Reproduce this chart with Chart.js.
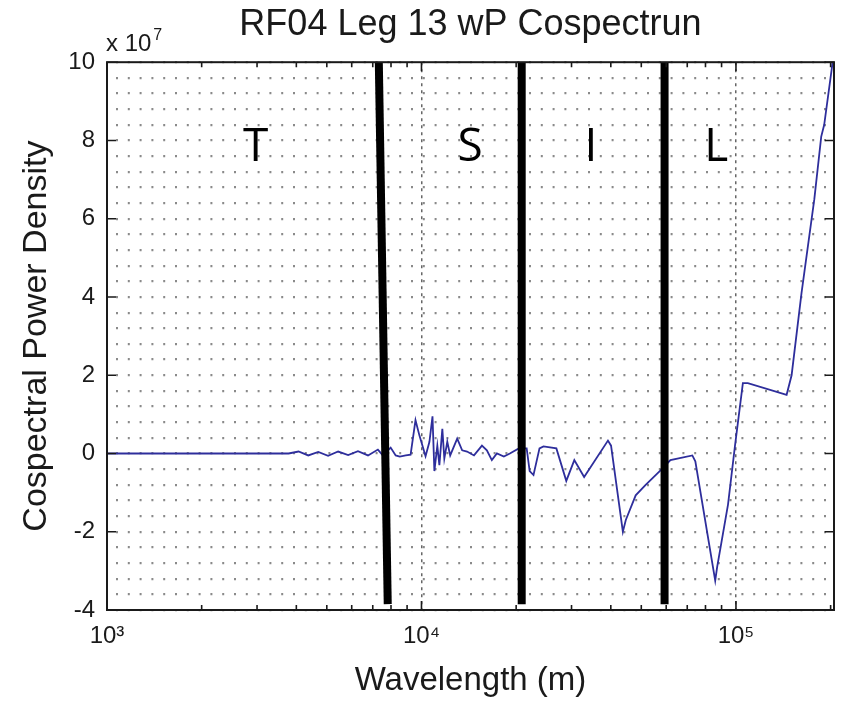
<!DOCTYPE html>
<html>
<head>
<meta charset="utf-8">
<script src="https://cdn.jsdelivr.net/npm/chart.js@4.4.1/dist/chart.umd.min.js"></script>
<style>
  html, body { margin: 0; padding: 0; background: #fff; }
  #wrap { width: 846px; height: 708px; }
</style>
</head>
<body>
<div id="wrap"><canvas id="myChart"></canvas></div>
<script>
// wavelength (m) of each point
const wavelength = [1000, 3780, 4064, 4365, 4697, 5047, 5433, 5846, 6281, 6761, 7267, 7536,
  7980, 8279, 8531, 8913, 9234, 9572, 9858, 10073, 10303, 10600, 10840, 10990, 11230, 11400,
  11650, 11820, 12080, 12340, 12990, 13470, 13960, 14690, 15570, 16140, 16740, 17370, 18280,
  19100, 20390, 21600, 22080, 22710, 23730, 24430, 26850, 28870, 30620, 32900, 39170, 40070,
  43690, 44640, 47990, 51620, 57560, 61890, 72660, 74270, 85910, 87150, 94370, 99300, 105200,
  109100, 144900, 150300, 161600, 177500, 186700, 190800, 203000];

// cospectral power density, in units of 1e7
const cospectrum = [0, 0, 0.05, -0.05, 0.04, -0.06, 0.05, -0.04, 0.06, -0.05, 0.1, -0.05,
  0.15, -0.05, -0.08, -0.05, -0.03, 0.85, 0.45, 0.2, -0.07, 0.3, 0.95, -0.45, 0.2, -0.3,
  0.63, -0.13, 0.3, -0.05, 0.38, 0.08, 0.05, -0.05, 0.2, 0.08, -0.17, 0, -0.08,
  0, 0.13, 0.13, -0.45, -0.55, 0.13, 0.18, 0.13, -0.7, -0.17, -0.6, 0.33, 0.2,
  -2.0, -1.7, -1.07, -0.8, -0.43, -0.17, -0.05, -0.2, -3.25, -2.9, -1.3, 0.2, 1.8,
  1.8, 1.5, 2.0, 4.1, 6.5, 8.1, 8.4, 10.0];

// hand drawn dividers between the regions (wavelength at top and at bottom)
const dividerTop = [7317, 20830, 59290];
const dividerBottom = [7811, 20830, 59290];
const dividerSpan = [10, -3.85];

// region letters and the wavelength they sit over
const regionNames = ['T', 'S', 'I', 'L'];
const regionCenters = [2972, 14290, 34600, 86500];
const regionLevel = 7.8;

const xMin = 1000, xMax = 205000;
const yMin = -4, yMax = 10;
const sup = { 3: '\u00B3', 4: '\u2074', 5: '\u2075' };
const FONT = "'Liberation Sans', Arial, sans-serif";

const isDecade = v => {
    const p = Math.log10(v);
    return Math.abs(p - Math.round(p)) < 1e-9;
};

// matlab style box: inward ticks on all four sides, the x 10^7 factor and region letters
const matlabFrame = {
    id: 'matlabFrame',
    afterDraw(chart) {
        const { ctx, chartArea: a, scales: { x, y } } = chart;
        ctx.save();
        ctx.strokeStyle = '#1a1a1a';
        ctx.lineWidth = 2;
        ctx.strokeRect(a.left, a.top, a.right - a.left, a.bottom - a.top);

        ctx.lineWidth = 1.6;
        ctx.beginPath();
        for (let v = yMin; v <= yMax; v += 2) {
            const py = y.getPixelForValue(v);
            ctx.moveTo(a.left, py); ctx.lineTo(a.left + 9, py);
            ctx.moveTo(a.right, py); ctx.lineTo(a.right - 9, py);
        }
        for (let d = 1000; d <= xMax; d *= 10) {
            for (let m = 1; m <= 9; m++) {
                const v = m * d;
                if (v > xMax) break;
                const px = x.getPixelForValue(v);
                const len = m === 1 ? 9 : 5;
                ctx.moveTo(px, a.bottom); ctx.lineTo(px, a.bottom - len);
                ctx.moveTo(px, a.top); ctx.lineTo(px, a.top + len);
            }
        }
        ctx.stroke();

        // exponent factor above the y axis
        ctx.fillStyle = '#1a1a1a';
        ctx.textBaseline = 'alphabetic';
        ctx.textAlign = 'left';
        ctx.font = '24px ' + FONT;
        ctx.fillText('x 10', a.left - 1, a.top - 11);
        const w = ctx.measureText('x 10').width;
        ctx.font = '16px ' + FONT;
        ctx.fillText('7', a.left + w + 1, a.top - 22);

        // region letters
        ctx.fillStyle = '#000';
        ctx.textAlign = 'center';
        ctx.textBaseline = 'middle';
        ctx.font = "46px 'Open Sans', 'Noto Sans', sans-serif";
        regionNames.forEach((name, i) => {
            ctx.fillText(name, x.getPixelForValue(regionCenters[i]), y.getPixelForValue(regionLevel));
        });
        ctx.restore();
    }
};

const dividerSets = dividerTop.map((top, i) => ({
    data: [{ x: top, y: dividerSpan[0] }, { x: dividerBottom[i], y: dividerSpan[1] }],
    borderColor: '#000',
    borderWidth: 8,
    pointRadius: 0,
    order: 0
}));

const ctx = document.getElementById('myChart').getContext('2d');
const myChart = new Chart(ctx, {
    type: 'line',
    data: {
        datasets: [
            ...dividerSets,
            {
                label: 'wP cospectrum',
                data: wavelength.map((w, i) => ({ x: w, y: cospectrum[i] })),
                borderColor: '#2e2e9c',
                borderWidth: 1.8,
                pointRadius: 0,
                tension: 0,
                order: 1
            }
        ]
    },
    options: {
        responsive: true,
        maintainAspectRatio: false,
        animation: false,
        layout: { padding: { left: 4, right: 6, top: 0, bottom: 4 } },
        plugins: {
            legend: { display: false },
            tooltip: { enabled: false },
            title: {
                display: true,
                fullSize: false,
                text: 'RF04 Leg 13 wP Cospectrun',
                color: '#1a1a1a',
                font: { family: FONT, size: 36, weight: 'normal' },
                padding: { top: 3, bottom: 16 }
            }
        },
        scales: {
            x: {
                type: 'logarithmic',
                min: xMin,
                max: xMax,
                afterFit: s => { s.height = 94; },
                ticks: {
                    autoSkip: false,
                    maxRotation: 0,
                    padding: 12,
                    color: '#1a1a1a',
                    font: { family: FONT, size: 24 },
                    callback: v => isDecade(v) ? '10' + sup[Math.round(Math.log10(v))] : ''
                },
                grid: {
                    drawTicks: false,
                    lineWidth: 1.5,
                    color: c => (c.tick && isDecade(c.tick.value) && c.tick.value > xMin) ? '#666' : 'rgba(0,0,0,0)'
                },
                border: { display: false, dash: [3, 4] },
                title: {
                    display: true,
                    text: 'Wavelength (m)',
                    color: '#1a1a1a',
                    font: { family: FONT, size: 33 },
                    padding: { top: 0, bottom: 3 }
                }
            },
            y: {
                min: yMin,
                max: yMax,
                afterFit: s => { s.width = 103; },
                ticks: {
                    stepSize: 0.4,
                    maxTicksLimit: 100,
                    autoSkip: false,
                    padding: 12,
                    color: '#1a1a1a',
                    font: { family: FONT, size: 24 },
                    callback: v => {
                        const r = Math.round(v);
                        return (Math.abs(v - r) < 1e-6 && r % 2 === 0) ? String(r) : '';
                    }
                },
                grid: {
                    drawTicks: false,
                    lineWidth: 2.2,
                    color: '#8a8a8a'
                },
                border: { display: false, dash: [2, 9.8], dashOffset: 2.8 },
                title: {
                    display: true,
                    text: 'Cospectral Power Density',
                    color: '#1a1a1a',
                    font: { family: FONT, size: 34 },
                    padding: { top: 12, bottom: 0 }
                }
            }
        }
    },
    plugins: [matlabFrame]
});
</script>
</body>
</html>
